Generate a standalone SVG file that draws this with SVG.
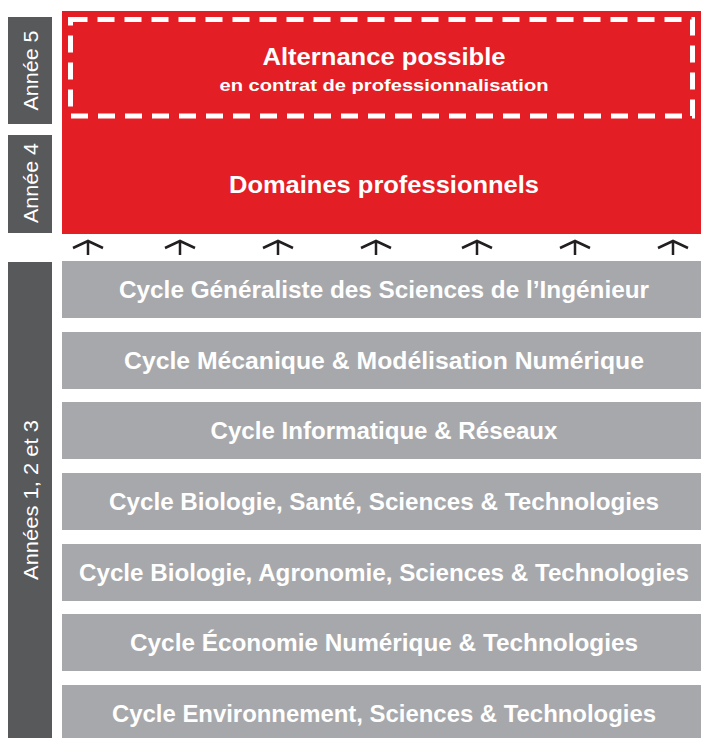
<svg xmlns="http://www.w3.org/2000/svg" width="701" height="738" viewBox="0 0 701 738">
<defs>
<style>
.side{fill:#58595B}
.sidet{fill:#ffffff;font-family:"Liberation Sans",Arial,sans-serif;font-size:21px;text-anchor:middle}
.red{fill:#E31E25}
.gray{fill:#A7A8AB}
.t{fill:#ffffff;font-family:"Liberation Sans",Arial,sans-serif;font-weight:bold;text-anchor:middle}
.cyc{font-size:23px}
.arr{stroke:#231F20;stroke-width:2.5;fill:none}
</style>
</defs>
<rect width="701" height="738" fill="#ffffff"/>
<g id="label-annee5"><rect class="side" x="8" y="17" width="44" height="107"/><text class="sidet" transform="translate(37.5,70.5) rotate(-90)" textLength="80" lengthAdjust="spacingAndGlyphs">Année 5</text></g>
<g id="label-annee4"><rect class="side" x="8" y="135" width="44" height="98"/><text class="sidet" transform="translate(37.5,183) rotate(-90)" textLength="80" lengthAdjust="spacingAndGlyphs">Année 4</text></g>
<g id="label-annees123"><rect class="side" x="8" y="262" width="44" height="476"/><text class="sidet" transform="translate(37.5,500) rotate(-90)" textLength="160" lengthAdjust="spacingAndGlyphs">Années 1, 2 et 3</text></g>
<g id="red-block"><rect class="red" x="62" y="11" width="639" height="223"/></g>
<g id="alternance"><rect x="70.5" y="19.5" width="622" height="96.5" fill="none" stroke="#ffffff" stroke-width="5" stroke-dasharray="17 10"/>
<text class="t" x="384" y="65" font-size="24" textLength="243" lengthAdjust="spacingAndGlyphs">Alternance possible</text>
<text class="t" x="384" y="91" font-size="17" textLength="329" lengthAdjust="spacingAndGlyphs">en contrat de professionnalisation</text></g>
<g id="domaines"><text class="t" x="384" y="193" font-size="24" textLength="310" lengthAdjust="spacingAndGlyphs">Domaines professionnels</text></g>
<g id="connectors">
<path class="arr" d="M88 255V241M73 248L88 241L103 248"/>
<path class="arr" d="M180 255V241M165 248L180 241L195 248"/>
<path class="arr" d="M278 255V241M263 248L278 241L293 248"/>
<path class="arr" d="M376 255V241M361 248L376 241L391 248"/>
<path class="arr" d="M477 255V241M462 248L477 241L492 248"/>
<path class="arr" d="M575 255V241M560 248L575 241L590 248"/>
<path class="arr" d="M673 255V241M658 248L673 241L688 248"/>
</g>
<g id="cycle1"><rect class="gray" x="62" y="261" width="639" height="57"/><text class="t cyc" x="384" y="298" textLength="530" lengthAdjust="spacingAndGlyphs">Cycle Généraliste des Sciences de l’Ingénieur</text></g>
<g id="cycle2"><rect class="gray" x="62" y="332" width="639" height="57"/><text class="t cyc" x="384" y="369" textLength="520" lengthAdjust="spacingAndGlyphs">Cycle Mécanique &amp; Modélisation Numérique</text></g>
<g id="cycle3"><rect class="gray" x="62" y="402" width="639" height="57"/><text class="t cyc" x="384" y="439" textLength="347" lengthAdjust="spacingAndGlyphs">Cycle Informatique &amp; Réseaux</text></g>
<g id="cycle4"><rect class="gray" x="62" y="473" width="639" height="57"/><text class="t cyc" x="384" y="510" textLength="550" lengthAdjust="spacingAndGlyphs">Cycle Biologie, Santé, Sciences &amp; Technologies</text></g>
<g id="cycle5"><rect class="gray" x="62" y="544" width="639" height="57"/><text class="t cyc" x="384" y="581" textLength="610" lengthAdjust="spacingAndGlyphs">Cycle Biologie, Agronomie, Sciences &amp; Technologies</text></g>
<g id="cycle6"><rect class="gray" x="62" y="614" width="639" height="57"/><text class="t cyc" x="384" y="651" textLength="508" lengthAdjust="spacingAndGlyphs">Cycle Économie Numérique &amp; Technologies</text></g>
<g id="cycle7"><rect class="gray" x="62" y="685" width="639" height="57"/><text class="t cyc" x="384" y="722" textLength="544" lengthAdjust="spacingAndGlyphs">Cycle Environnement, Sciences &amp; Technologies</text></g>
</svg>
